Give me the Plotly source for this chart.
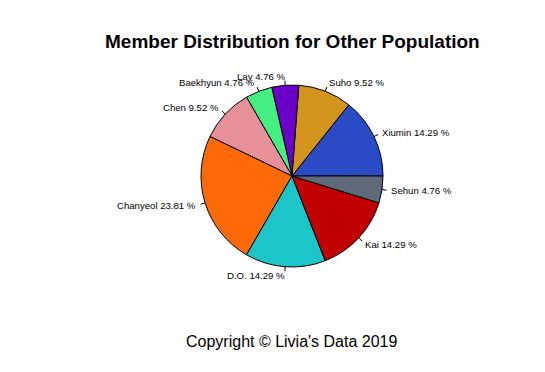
import math
import plotly.graph_objects as go

members = ["Xiumin", "Suho", "Lay", "Baekhyun", "Chen", "Chanyeol", "D.O.", "Kai", "Sehun"]
counts = [3, 2, 1, 1, 2, 5, 3, 3, 1]
colors = ["#2B4BC6", "#D4951F", "#6A00C8", "#44EE80", "#E8909A", "#FF6A08", "#1CC6C8", "#C00000", "#5E6A7A"]

W, H = 545, 372
OFF = 8  # page body margin offset
cx, cy, r = 292 - OFF, 176 - OFF, 91  # pixel geometry of the pie within the figure

total = sum(counts)
pcts = [c / total * 100 for c in counts]
labels = [f"{m} {p:.2f} %" for m, p in zip(members, pcts)]

fig = go.Figure()
fig.add_trace(go.Pie(
    labels=members, values=counts, sort=False, direction="counterclockwise",
    rotation=90 - counts[0] / total * 360, textinfo="none", hoverinfo="label+percent",
    marker=dict(colors=colors, line=dict(color="black", width=1)),
    domain=dict(x=[(cx - r) / W, (cx + r) / W], y=[(H - cy - r) / H, (H - cy + r) / H]),
    showlegend=False,
))

def px2paper(x, y):
    return x / W, (H - y) / H

shapes, annotations = [], []
acc = 0
for lab, c in zip(labels, counts):
    mid = (acc + c / 2) / total * 2 * math.pi
    acc += c
    co, si = math.cos(mid), math.sin(mid)
    x0, y0 = px2paper(cx + r * co, cy - r * si)
    x1, y1 = px2paper(cx + 1.05 * r * co, cy - 1.05 * r * si)
    shapes.append(dict(type="line", xref="paper", yref="paper", x0=x0, y0=y0, x1=x1, y1=y1,
                       line=dict(color="black", width=1)))
    tx, ty = px2paper(cx + 1.1 * r * co, cy - 1.1 * r * si)
    annotations.append(dict(text=lab, x=tx, y=ty, xref="paper", yref="paper", showarrow=False,
                            xanchor="left" if co > 0 else "right", yanchor="middle",
                            borderpad=0, borderwidth=0,
                            font=dict(size=9.6, color="black")))

annotations.append(dict(text="<b>Member Distribution for Other Population</b>", x=cx / W, y=(H - 41 + OFF) / H,
                        xref="paper", yref="paper", showarrow=False, xanchor="center", yanchor="middle",
                        font=dict(size=19, color="black")))
annotations.append(dict(text="Copyright © Livia's Data 2019", x=cx / W, y=(H - 341 + OFF) / H,
                        xref="paper", yref="paper", showarrow=False, xanchor="center", yanchor="middle",
                        font=dict(size=16, color="black")))

fig.update_layout(
    width=W, height=H, margin=dict(l=0, r=0, t=0, b=0),
    paper_bgcolor="white", plot_bgcolor="white",
    font=dict(family="Liberation Sans, Arial, sans-serif"),
    shapes=shapes, annotations=annotations,
)
fig.write_html("out.html")
